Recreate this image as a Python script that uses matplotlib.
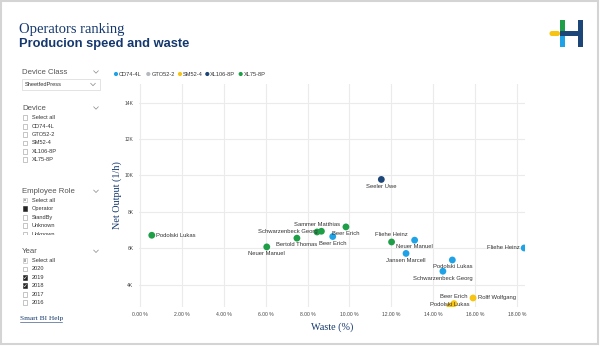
import matplotlib
matplotlib.use("Agg")
import matplotlib.pyplot as plt
from matplotlib.patches import Rectangle, FancyBboxPatch
from matplotlib.ticker import FuncFormatter

# ---------------- data ----------------
series_names = ["CD74-4L", "GTO52-2", "SM52-4", "XL106-8P", "XL75-8P"]
series_colors = ["#1FA2E6", "#B4B9BE", "#F7C412", "#1B4677", "#1F9E48"]

names = ["Podolski Lukas", "Neuer Manuel", "Bertold Thomas", "Sammer Matthias",
         "Schwarzenbeck Georg", "Beer Erich", "Fliehe Heinz",
         "Beer Erich", "Neuer Manuel", "Jansen Marcell", "Podolski Lukas",
         "Schwarzenbeck Georg", "Fliehe Heinz",
         "Seeler Uwe",
         "Rolff Wolfgang", "Beer Erich", "Podolski Lukas"]
device = ["XL75-8P"] * 7 + ["CD74-4L"] * 6 + ["XL106-8P"] + ["SM52-4"] * 3
waste = [0.56, 6.05, 7.49, 8.45, 8.66, 9.83, 12.01,
         9.20, 13.11, 12.70, 14.91, 14.46, 18.34,
         11.52,
         15.90, 14.99, 14.80]
output = [6710, 6070, 6550, 6890, 6930, 7170, 6340,
          6640, 6440, 5710, 5350, 4730, 6010,
          9780,
          3260, 2950, 2820]
label_pos = ["r", "b", "b", "a", "l", "b", "a",
             "b", "b", "b", "b", "b", "l",
             "b",
             "r", "a", "c"]

y_ticks = [4000, 6000, 8000, 10000, 12000, 14000]
x_ticks = [0, 2, 4, 6, 8, 10, 12, 14, 16, 18]

# ---------------- figure ----------------
W, H = 600, 346
fig = plt.figure(figsize=(W / 100, H / 100), dpi=100)
fig.patch.set_facecolor("white")

ov = fig.add_axes([0, 0, 1, 1], zorder=0)
ov.set_xlim(0, W)
ov.set_ylim(H, 0)
ov.axis("off")

SANS = ["Liberation Sans", "DejaVu Sans"]
SERIF = ["Liberation Serif", "DejaVu Serif"]
NAVY = "#14386E"

# frame
ov.add_patch(Rectangle((1, 1), W - 3.5, H - 3, fill=False, ec="#D4D4D4", lw=1.5))

# titles
ov.text(19, 30, "Operators ranking", family=SERIF, fontsize=10.5, color=NAVY, va="center")
ov.text(19, 44.5, "Producion speed and waste", family=SANS, fontsize=9.3,
        fontweight="bold", color=NAVY, va="center")

# logo
ov.add_patch(FancyBboxPatch((549.5, 31), 10.5, 5, boxstyle="round,pad=0,rounding_size=2.4",
                            fc="#F7C412", ec="none"))
ov.add_patch(Rectangle((559.5, 19.5), 5.5, 11.5, fc="#1F9E48", ec="none"))
ov.add_patch(Rectangle((559.5, 36), 5.5, 10.7, fc="#1FA2E6", ec="none"))
ov.add_patch(Rectangle((559.5, 31), 18.5, 5, fc="#1B4677", ec="none"))
ov.add_patch(Rectangle((577.7, 19.5), 5.6, 27.2, fc="#1B4677", ec="none"))

GRAY = "#555555"


def chevron(x, y):
    ov.plot([x - 2.3, x, x + 2.3], [y - 1.2, y + 1.2, y - 1.2], color="#888888", lw=0.5)


def checkbox(x, y, text, state=0):
    if state == 0:
        ov.add_patch(Rectangle((x - 2.3, y - 2.3), 4.6, 4.6, fc="white", ec="#9A9A9A", lw=0.4))
    elif state in (1, 3):
        ov.add_patch(Rectangle((x - 2.3, y - 2.3), 4.6, 4.6, fc="#252525", ec="#252525", lw=0.4))
        if state == 3:
            ov.plot([x - 1.2, x - 0.3, x + 1.3], [y, y + 1, y - 1.2], color="white", lw=0.4)
    elif state == 2:
        ov.add_patch(Rectangle((x - 2.3, y - 2.3), 4.6, 4.6, fc="white", ec="#B0B0B0", lw=0.4))
        ov.add_patch(Rectangle((x - 1.3, y - 1.3), 2.6, 2.6, fc="#B0B0B0", ec="none"))
    ov.text(x + 7, y, text, family=SANS, fontsize=4.1, color="#333333", va="center")


# Device Class
ov.text(22, 72, "Device Class", family=SANS, fontsize=5.6, color=GRAY, va="center")
chevron(96, 72)
ov.add_patch(Rectangle((22, 79), 78, 11, fc="white", ec="#D8D8D8", lw=0.5))
ov.text(25, 84.5, "SheetfedPress", family=SANS, fontsize=4.1, color="#333333", va="center")
chevron(93, 84.5)

# Device
ov.text(22, 108, "Device", family=SANS, fontsize=5.6, color=GRAY, va="center")
chevron(96, 108)
for yy, t in zip([117.7, 126.3, 134.7, 143, 151.3, 159.7], ["Select all"] + series_names):
    checkbox(25, yy, t, 0)

# Employee Role
ov.text(22, 191.3, "Employee Role", family=SANS, fontsize=5.6, color=GRAY, va="center")
chevron(96, 191.3)
for yy, t, st in zip([200, 208.7, 217.3, 225.7, 234.2],
                     ["Select all", "Operator", "StandBy", "Unknown", "Unknown"],
                     [2, 1, 0, 0, 0]):
    checkbox(25, yy, t, st)
# list is scrolled: hide the lower half of the last item
ov.add_patch(Rectangle((15, 234.6), 90, 8, fc="white", ec="none", zorder=5))

# Year
ov.text(22, 251.3, "Year", family=SANS, fontsize=5.6, color=GRAY, va="center")
chevron(96, 251.3)
for yy, t, st in zip([260.3, 269, 277.7, 285.7, 294.3, 302.7],
                     ["Select all", "2020", "2019", "2018", "2017", "2016"],
                     [2, 0, 3, 3, 0, 0]):
    checkbox(25, yy, t, st)

ov.text(20, 318.7, "Smart BI Help", family=SERIF, fontsize=5.3, color=NAVY, va="center")
ov.plot([20, 62], [321.5, 321.5], color=NAVY, lw=0.4)

# legend
leg_x = [116, 148.3, 180, 207.3, 240.7]
for lx, nm, c in zip(leg_x, series_names, series_colors):
    ov.scatter([lx], [74], s=9, color=c, edgecolors="none")
    ov.text(lx + 3, 74, nm, family=SANS, fontsize=4.1, color="#333333", va="center")

# ---------------- main scatter ----------------
ax_l, ax_r, ax_t, ax_b = 139, 525, 84, 306.7
ax = fig.add_axes([ax_l / W, 1 - ax_b / H, (ax_r - ax_l) / W, (ax_b - ax_t) / H], zorder=1)
ax.set_facecolor("none")
ax.set_xlim(-0.05, 18.38)
ax.set_ylim(2780, 15030)
for s in ax.spines.values():
    s.set_visible(False)
ax.set_xticks(x_ticks)
ax.set_yticks(y_ticks)
ax.xaxis.set_major_formatter(FuncFormatter(lambda v, p: f"{v:.2f} %"))
ax.yaxis.set_major_formatter(FuncFormatter(lambda v, p: f"{int(v / 1000)}K"))
ax.tick_params(length=0, labelsize=3.6, labelcolor="#444444", pad=4)
for lab in ax.get_xticklabels() + ax.get_yticklabels():
    lab.set_family(SANS)
ax.grid(True, color="#EBEBEB", lw=0.8)
ax.set_axisbelow(True)

ax.set_xlabel("Waste (%)", family=SERIF, fontsize=7.3, color=NAVY, labelpad=4)
ax.set_ylabel("Net Output (1/h)", family=SERIF, fontsize=7.3, color=NAVY, labelpad=2)

color_map = dict(zip(series_names, series_colors))
for nm in series_names:
    xs = [w for w, d in zip(waste, device) if d == nm]
    ys = [o for o, d in zip(output, device) if d == nm]
    if xs:
        ax.scatter(xs, ys, s=24, color=color_map[nm], edgecolors="none", zorder=3)

px = 0.72
offsets = {"r": ((4.5 * px, 0), "left", "center"),
           "l": ((-4.0 * px, 0), "right", "center"),
           "a": ((0, 7 * px), "center", "center"),
           "b": ((0, -6.8 * px), "center", "center"),
           "c": ((0, 1 * px), "center", "center")}
for nm, w, o, pos in zip(names, waste, output, label_pos):
    off, ha, va = offsets[pos]
    ax.annotate(nm, (w, o), xytext=off, textcoords="offset points", ha=ha, va=va,
                family=SANS, fontsize=4.2, color="#333333", zorder=4, annotation_clip=False)

fig.savefig("out.png", dpi=100, facecolor="white")
